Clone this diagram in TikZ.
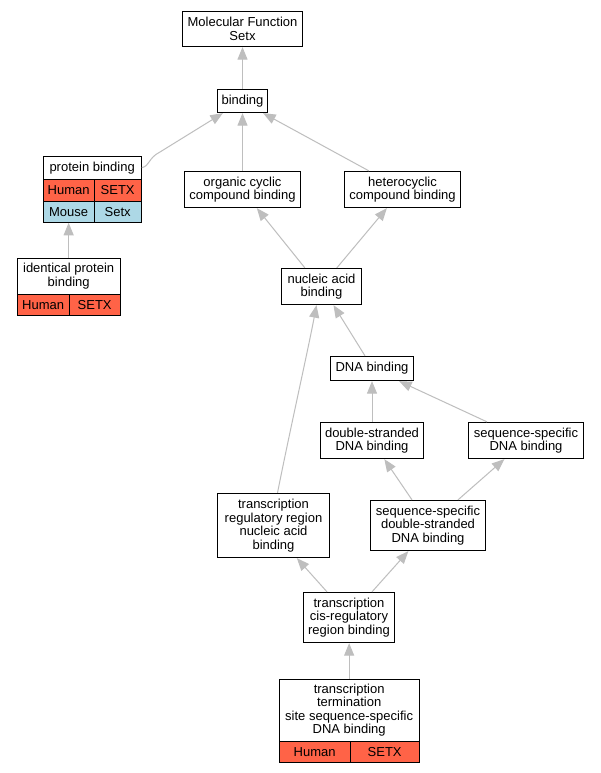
\documentclass[tikz,border=0pt]{standalone}
\usepackage{fontspec}
\setmainfont{Liberation Sans}
\usetikzlibrary{arrows.meta,calc}
\definecolor{humanc}{HTML}{FF6347}
\definecolor{mousec}{HTML}{ADD8E6}
\definecolor{edgec}{HTML}{BEBEBE}
\newcommand{\lblfont}{\fontsize{13}{13.6}\selectfont}
\begin{document}
\begin{tikzpicture}[x=1pt,y=-1pt,
  box/.style={draw=black,line width=1.3pt,fill=white,inner sep=0pt,align=center,font=\lblfont},
  tcell/.style={box,anchor=north west},
  hcell/.style={tcell,fill=humanc},
  mcell/.style={tcell,fill=mousec},
  edge/.style={draw=edgec,line width=1pt,-{Triangle[length=12.5pt,width=10pt]}}]
\useasboundingbox (0,0) rectangle (600,773);
\fill[white] (0,0) rectangle (600,773);
% plain nodes
\node[box,minimum width=120pt,minimum height=35pt] (mf) at (242.5,29) {Molecular Function\\Setx};
\node[box,minimum width=50pt,minimum height=23pt] (binding) at (242.5,101) {binding};
\node[box,minimum width=116pt,minimum height=36pt] (occb) at (242.5,189.5) {organic cyclic\\compound binding};
\node[box,minimum width=116pt,minimum height=36pt] (hcb) at (402.5,189.5) {heterocyclic\\compound binding};
\node[box,minimum width=80pt,minimum height=36pt] (nab) at (321.5,286.5) {nucleic acid\\binding};
\node[box,minimum width=83pt,minimum height=24pt] (dnab) at (372,368.5) {DNA binding};
\node[box,minimum width=103pt,minimum height=36pt] (dsdb) at (372,440.5) {double-stranded\\DNA binding};
\node[box,minimum width=115pt,minimum height=36pt] (ssdb) at (526,440.5) {sequence-specific\\DNA binding};
\node[box,minimum width=112pt,minimum height=64pt] (trr) at (273.5,525.5) {transcription\\regulatory region\\nucleic acid\\binding};
\node[box,minimum width=115pt,minimum height=50pt] (ssds) at (428,525.5) {sequence-specific\\double-stranded\\DNA binding};
\node[box,minimum width=91pt,minimum height=50pt] (cis) at (349,617.5) {transcription\\cis-regulatory\\region binding};
% protein binding table
\node[tcell,minimum width=98pt,minimum height=23pt] (pbt) at (42.5,155.5) {protein binding};
\node[hcell,minimum width=51pt,minimum height=22pt] (pbh1) at (42.5,178.5) {Human};
\node[hcell,minimum width=47pt,minimum height=22pt] (pbh2) at (93.5,178.5) {SETX};
\node[mcell,minimum width=51pt,minimum height=21pt] (pbm1) at (42.5,200.5) {Mouse};
\node[mcell,minimum width=47pt,minimum height=21pt] (pbm2) at (93.5,200.5) {Setx};
% identical protein binding table
\node[tcell,minimum width=103pt,minimum height=36pt] (ipbt) at (16.5,257.5) {identical protein\\binding};
\node[hcell,minimum width=52pt,minimum height=21pt] (ipbh1) at (16.5,293.5) {Human};
\node[hcell,minimum width=51pt,minimum height=21pt] (ipbh2) at (68.5,293.5) {SETX};
% transcription termination table
\node[tcell,minimum width=140pt,minimum height=62pt] (ttst) at (278.5,678.5) {transcription\\termination\\site sequence-specific\\DNA binding};
\node[hcell,minimum width=71pt,minimum height=21pt] (ttsh1) at (278.5,740.5) {Human};
\node[hcell,minimum width=69pt,minimum height=21pt] (ttsh2) at (349.5,740.5) {SETX};
% edges
\draw[edge] (binding.north) -- (mf.south);
\draw[edge] (pbt.east) .. controls (150,166) and (148,158) .. (160,152) -- ([xshift=6pt]binding.south west);
\draw[edge] (occb.north) -- (occb.north |- binding.south);
\draw[edge] ([xshift=25pt]hcb.north west) -- ([xshift=-5pt]binding.south east);
\draw[edge] (ipbt.north) -- (ipbt.north |- pbm1.south);
\draw[edge] ([xshift=24pt]nab.north west) -- ([xshift=73pt]occb.south west);
\draw[edge] ([xshift=56pt]nab.north west) -- ([xshift=43pt]hcb.south west);
\draw[edge] ([xshift=-7pt]dnab.north) -- ([xshift=12pt]nab.south);
\draw[edge] ([xshift=4pt]trr.north) .. controls (290,430) and (308,350) .. ([xshift=-5pt]nab.south);
\draw[edge] (dsdb.north) -- (dsdb.north |- dnab.south);
\draw[edge] ([xshift=-39pt]ssdb.north) -- ([xshift=-15pt]dnab.south east);
\draw[edge] ([xshift=-16pt]ssds.north) -- ([xshift=64.5pt]dsdb.south west);
\draw[edge] ([xshift=30pt]ssds.north) -- ([xshift=36.5pt]ssdb.south west);
\draw[edge] ([xshift=-22pt]cis.north) -- ([xshift=80pt]trr.south west);
\draw[edge] ([xshift=23pt]cis.north) -- ([xshift=38.5pt]ssds.south west);
\draw[edge] (ttst.north) -- (ttst.north |- cis.south);
\end{tikzpicture}
\end{document}
